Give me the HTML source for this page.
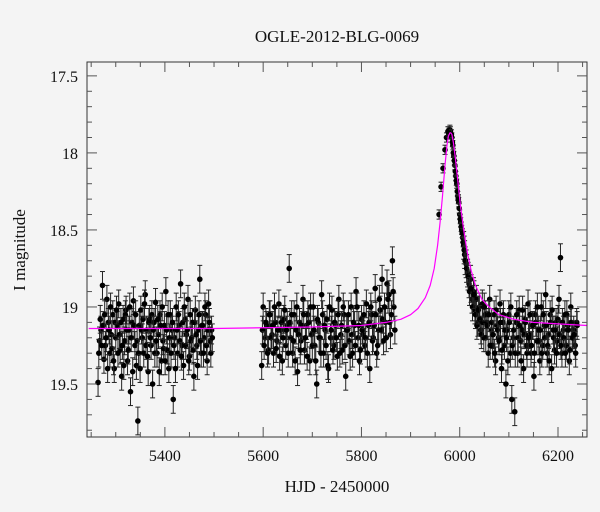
<!DOCTYPE html>
<html><head><meta charset="utf-8"><style>
html,body{margin:0;padding:0;background:#f4f4f4;}
svg{display:block;font-family:"Liberation Serif",serif;}
</style></head><body>
<svg id="chart" width="600" height="512" viewBox="0 0 600 512" xmlns="http://www.w3.org/2000/svg">
<rect width="600" height="512" fill="#f4f4f4"/>
<text x="337" y="42" font-size="17" text-anchor="middle" fill="#111">OGLE-2012-BLG-0069</text>
<text x="337" y="492" font-size="17" text-anchor="middle" fill="#111">HJD - 2450000</text>
<text transform="translate(25,250) rotate(-90)" font-size="17" text-anchor="middle" fill="#111">I magnitude</text>
<g id="marks"></g>
<g id="axes"></g>
</svg>
<script>
const xTicks=[5400,5600,5800,6000,6200];
const yTicks=[17.5,18,18.5,19,19.5];
const yTickLabels=["17.5","18","18.5","19","19.5"];
const s1Times=[5264,5267,5270,5273,5276,5279,5282,5285,5288,5291,5294,5297,5300,5303,5306,5309,5312,5315,5318,5321,5324,5327,5330,5333,5336,5339,5342,5345,5348,5351,5354,5357,5360,5363,5366,5369,5372,5375,5378,5381,5384,5387,5390,5393,5396,5399,5402,5405,5408,5411,5414,5417,5420,5423,5426,5429,5432,5435,5438,5441,5444,5447,5450,5453,5456,5459,5462,5465,5468,5471,5474,5477,5480,5483,5486,5489,5492,5495];
const s1Mags=[19.49,19.22,19.15,18.86,19.34,19.25,18.95,19.1,19.3,19.18,19.05,19.4,19.2,19.12,18.98,19.28,19.45,19.08,19.22,19.02,19.35,19.15,19.55,19.1,18.96,19.25,19.38,19.74,19.12,19.02,19.2,19.3,18.92,19.15,19.42,19.08,19.25,19.5,19.1,18.97,19.3,19.18,19.05,19.35,19.22,19.12,18.9,19.28,19.4,19.05,19.15,19.6,19.2,19.0,19.3,19.12,18.85,19.25,19.38,19.08,19.18,18.95,19.32,19.22,19.1,19.45,19.02,19.25,19.15,18.82,19.3,19.12,19.2,19.05,19.35,18.98,19.22,19.15];
const s1bTimes=[5265.5,5268.5,5271.5,5274.5,5277.5,5280.5,5283.5,5286.5,5289.5,5292.5,5295.5,5298.5,5301.5,5304.5,5307.5,5310.5,5313.5,5316.5,5319.5,5322.5,5325.5,5328.5,5331.5,5334.5,5337.5,5340.5,5343.5,5346.5,5349.5,5352.5,5355.5,5358.5,5361.5,5364.5,5367.5,5370.5,5373.5,5376.5,5379.5,5382.5,5385.5,5388.5,5391.5,5394.5,5397.5,5400.5,5403.5,5406.5,5409.5,5412.5,5415.5,5418.5,5421.5,5424.5,5427.5,5430.5,5433.5,5436.5,5439.5,5442.5,5445.5,5448.5,5451.5,5454.5,5457.5,5460.5,5463.5,5466.5,5469.5,5472.5,5475.5,5478.5,5481.5,5484.5,5487.5,5490.5,5493.5,5496.5];
const s1bMags=[19.3,19.08,19.25,19.12,19.05,19.2,19.4,19.15,19.0,19.27,19.35,19.1,19.02,19.3,19.18,19.1,19.25,19.38,19.05,19.15,19.28,19.0,19.2,19.42,19.12,19.05,19.22,19.3,19.4,19.15,19.08,18.98,19.25,19.32,19.1,19.2,19.05,19.15,19.3,19.22,19.08,19.42,19.12,19.0,19.27,19.35,19.15,19.05,19.2,19.3,19.1,19.25,19.4,19.15,19.05,19.22,19.32,19.1,19.0,19.25,19.15,19.35,19.05,19.2,19.28,19.1,19.18,19.38,19.05,19.22,19.12,19.3,19.0,19.25,19.15,19.1,19.3,19.2];
const s2Times=[5597,5600,5604,5607,5611,5614,5618,5621,5625,5628,5632,5635,5639,5642,5646,5649,5653,5656,5660,5663,5667,5670,5674,5677,5681,5684,5688,5691,5695,5698,5702,5705,5709,5712,5716,5719,5723,5726,5730,5733,5737,5740,5744,5747,5751,5754,5758,5761,5765,5768,5772,5775,5779,5782,5786,5789,5793,5796,5800,5803,5807,5810,5814,5817,5821,5824,5828,5831,5835,5838,5842,5845,5849,5852,5856,5859,5863,5866];
const s2Mags=[19.38,19.0,19.2,19.12,19.28,19.05,19.18,19.3,19.1,19.22,18.98,19.15,19.35,19.08,19.25,19.12,18.75,19.2,19.3,19.05,19.15,19.42,19.1,19.22,18.95,19.28,19.12,19.05,19.35,19.18,19.0,19.25,19.5,19.1,19.2,18.92,19.3,19.15,19.08,19.4,19.2,19.02,19.25,19.12,19.32,18.95,19.18,19.28,19.05,19.45,19.15,19.22,19.0,19.3,19.12,18.9,19.2,19.35,19.08,19.18,19.25,18.98,19.12,19.4,19.05,19.2,18.88,19.3,19.15,19.02,18.82,19.22,19.1,18.85,18.92,19.18,18.7,19.0];
const s2bTimes=[5598.5,5602,5605.5,5609,5612.5,5616,5619.5,5623,5626.5,5630,5633.5,5637,5640.5,5644,5647.5,5651,5654.5,5658,5661.5,5665,5668.5,5672,5675.5,5679,5682.5,5686,5689.5,5693,5696.5,5700,5703.5,5707,5710.5,5714,5717.5,5721,5724.5,5728,5731.5,5735,5738.5,5742,5745.5,5749,5752.5,5756,5759.5,5763,5766.5,5770,5773.5,5777,5780.5,5784,5787.5,5791,5794.5,5798,5801.5,5805,5808.5,5812,5815.5,5819,5822.5,5826,5829.5,5833,5836.5,5840,5843.5,5847,5850.5,5854,5857.5,5861,5864.5,5868];
const s2bMags=[19.15,19.25,19.1,19.3,19.05,19.2,19.12,19.0,19.27,19.15,19.32,19.1,19.2,19.02,19.15,19.3,19.1,19.05,19.22,19.35,19.0,19.18,19.28,19.12,19.05,19.2,19.32,19.1,19.0,19.25,19.15,19.35,19.08,19.2,19.3,19.05,19.12,19.25,19.38,19.0,19.15,19.28,19.1,19.2,19.05,19.3,19.12,19.0,19.25,19.15,19.05,19.32,19.18,19.1,19.25,19.0,19.12,19.28,19.15,19.05,19.2,19.3,19.1,19.0,19.22,19.12,19.05,19.25,18.95,19.15,19.08,19.0,19.2,18.95,19.1,19.05,18.9,19.15];
const s3Times=[5958,5962,5966,5970,5973,5976,5978,5980,5982,5984,5986,5988,5990,5992,5994,5996,5998,6000,6002,6004,6006,6008,6010,6013,6016,6019,6022,6025,6028,6031,6034,6037,6040,6043,6046,6049,6052,6055,6058,6061,6064,6067,6070,6073,6076,6079,6082,6085,6088,6091,6094,6097,6100,6103,6106,6109,6112,6115,6118,6121,6124,6127,6130,6133,6136,6139,6142,6145,6148,6151,6154,6157,6160,6163,6166,6169,6172,6175,6178,6181,6184,6187,6190,6193,6196,6199,6202,6205,6208,6211,6214,6217,6220,6223,6226,6229,6232,6235,6238];
const s3Mags=[18.4,18.22,18.1,17.98,17.9,17.86,17.87,17.85,17.88,17.9,17.95,18.02,18.08,18.15,18.2,18.28,18.32,18.4,18.45,18.5,18.55,18.6,18.66,18.72,18.78,18.85,18.82,18.95,18.9,19.02,18.95,19.1,19.0,19.15,18.98,19.2,19.05,19.1,19.3,18.95,19.15,19.25,19.05,19.35,19.12,19.2,18.98,19.4,19.1,19.25,19.5,19.15,19.05,19.3,19.6,19.2,19.68,19.1,19.3,19.02,19.22,19.15,19.4,19.08,19.25,18.98,19.18,19.3,19.12,19.45,19.05,19.22,19.15,19.35,19.0,19.25,19.12,18.92,19.3,19.18,19.05,19.4,19.15,19.28,19.1,19.22,18.95,18.68,19.3,19.15,19.05,19.25,19.12,19.35,19.0,19.2,19.15,19.25,19.1];
const s3bTimes=[5981,5983,5985,5987,5989,5991,5993,5995,5997,5999,6001,6003,6005,6007,6009,6011,6014,6017,6020,6023,6026,6029,6032,6035,6038,6041,6044,6047,6050,6053,6056,6059,6062,6065,6068,6071,6074,6077,6080,6083,6086,6089,6092,6095,6098,6101,6104,6107,6110,6113,6116,6119,6122,6125,6128,6131,6134,6137,6140,6143,6146,6149,6152,6155,6158,6161,6164,6167,6170,6173,6176,6179,6182,6185,6188,6191,6194,6197,6200,6203,6206,6209,6212,6215,6218,6221,6224,6227,6230,6233,6236,6239];
const s3bMags=[17.86,17.88,17.93,18.0,18.05,18.12,18.18,18.25,18.3,18.36,18.43,18.48,18.52,18.58,18.63,18.7,18.75,18.8,18.9,18.88,19.0,18.92,19.05,19.12,19.02,19.08,19.18,19.1,19.0,19.2,19.12,19.05,19.25,19.1,19.18,19.3,19.02,19.15,19.22,19.1,19.28,19.05,19.15,19.2,19.35,19.1,19.0,19.25,19.15,19.3,19.05,19.2,19.12,19.35,19.02,19.18,19.1,19.3,19.2,19.05,19.25,19.12,19.3,19.1,19.0,19.22,19.15,19.3,19.05,19.2,19.12,19.25,19.35,19.1,19.02,19.2,19.15,19.3,19.08,19.18,19.25,19.1,19.2,19.3,19.05,19.15,19.28,19.1,19.2,19.18,19.3,19.12];
const errSizes=[0.09,0.03];
const modelTimes=[5245,5500,5700,5800,5850,5880,5900,5915,5930,5940,5948,5955,5960,5965,5970,5974,5977,5980,5982,5984,5987,5991,5996,6001,6008,6015,6023,6032,6045,6060,6080,6110,6150,6200,6259];
const modelMags=[19.14,19.14,19.13,19.12,19.1,19.08,19.05,19.01,18.94,18.86,18.75,18.6,18.45,18.28,18.08,17.95,17.89,17.87,17.87,17.88,17.93,18.03,18.18,18.33,18.5,18.64,18.76,18.86,18.95,19.0,19.05,19.08,19.1,19.11,19.12];

const L=87,R=587,T=62,B=437;
const X0=5241.5,X1=6259,Y0=17.41,Y1=19.844;
const xs=t=>L+(t-X0)/(X1-X0)*(R-L);
const ys=m=>T+(m-Y0)/(Y1-Y0)*(B-T);
const NS="http://www.w3.org/2000/svg";
const marks=document.getElementById('marks');
const axes=document.getElementById('axes');
function mk(tag,attrs,parent){const e=document.createElementNS(NS,tag);for(const k in attrs)e.setAttribute(k,attrs[k]);parent.appendChild(e);return e;}

const cp=mk('clipPath',{id:'clip'},marks);mk('rect',{x:L,y:T,width:R-L,height:B-T},cp);
const pts=mk('g',{'clip-path':'url(#clip)'},marks);


function drawSeason(times,mags,name){
  const n=Math.min(times.length,mags.length);
  for(let i=0;i<n;i++){
    const x=xs(times[i]),y=ys(mags[i]);
    const err=(mags[i]<18.6)?errSizes[1]:errSizes[0];
    const y1=ys(mags[i]-err),y2=ys(mags[i]+err);
    const g=mk('g',{},pts);
    
    
    mk('line',{x1:x,x2:x,y1:y1,y2:y2,stroke:'#222','stroke-width':1},g);
    mk('line',{x1:x-2.5,x2:x+2.5,y1:y1,y2:y1,stroke:'#222','stroke-width':1},g);
    mk('line',{x1:x-2.5,x2:x+2.5,y1:y2,y2:y2,stroke:'#222','stroke-width':1},g);
    mk('circle',{cx:x,cy:y,r:2.8,fill:'#000'},g);
  }
}
drawSeason(s1Times,s1Mags,'season1');
drawSeason(s1bTimes,s1bMags,'season1');
drawSeason(s2Times,s2Mags,'season2');
drawSeason(s2bTimes,s2bMags,'season2');
drawSeason(s3Times,s3Mags,'season3');
drawSeason(s3bTimes,s3bMags,'season3');

let d='';
for(let i=0;i<Math.min(modelTimes.length,modelMags.length);i++){d+=(i?'L':'M')+xs(modelTimes[i]).toFixed(1)+' '+ys(modelMags[i]).toFixed(1);}
const model=mk('path',{d:d,fill:'none',stroke:'#ff00ff','stroke-width':1.2,'stroke-linejoin':'round','clip-path':'url(#clip)'},marks);



const frame=mk('rect',{x:L,y:T,width:R-L,height:B-T,fill:'none',stroke:'#333','stroke-width':1},axes);


for(let t=5250;t<=6250;t+=50){
  const x=xs(t);const major=xTicks.includes(t);const len=major?10:5;
  mk('line',{x1:x,x2:x,y1:B,y2:B-len,stroke:'#555'},axes);
  mk('line',{x1:x,x2:x,y1:T,y2:T+len,stroke:'#555'},axes);
}
for(let k=0;k<=24;k++){
  const m=Math.round((17.5+(k-1)*0.1)*10)/10;
  if(m<Y0||m>Y1)continue;
  const y=ys(m);const major=Math.abs(m*2-Math.round(m*2))<1e-6;const len=major?10:5;
  mk('line',{x1:L,x2:L+len,y1:y,y2:y,stroke:'#555'},axes);
  mk('line',{x1:R,x2:R-len,y1:y,y2:y,stroke:'#555'},axes);
}
xTicks.forEach((t,i)=>{
  const e=mk('text',{x:xs(t),y:461,'font-size':16,'text-anchor':'middle',fill:'#111'},axes);
  e.textContent=String(t);
  
  
});
yTicks.forEach((m,i)=>{
  const e=mk('text',{x:78,y:ys(m)+6,'font-size':16,'text-anchor':'end',fill:'#111'},axes);
  e.textContent=yTickLabels[i];
  
  
});
</script>
</body></html>
